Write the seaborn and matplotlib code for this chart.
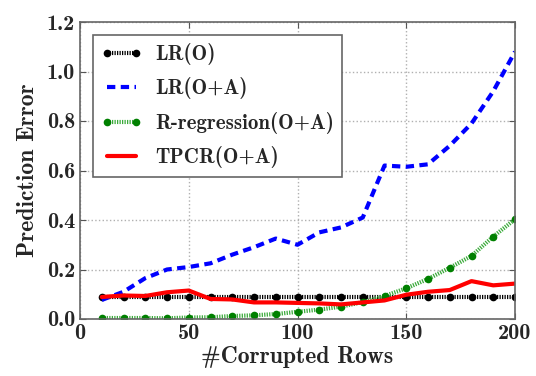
import matplotlib
matplotlib.use("Agg")
import matplotlib.pyplot as plt
import seaborn as sns
import pandas as pd

rows = [10, 20, 30, 40, 50, 60, 70, 80, 90, 100,
        110, 120, 130, 140, 150, 160, 170, 180, 190, 200]
lr_o = [0.09] * 20
lr_oa = [0.077, 0.11, 0.165, 0.20, 0.21, 0.225, 0.26, 0.29, 0.325, 0.30,
         0.35, 0.37, 0.41, 0.62, 0.615, 0.625, 0.70, 0.79, 0.92, 1.08]
rreg_oa = [0.004, 0.004, 0.004, 0.003, 0.006, 0.007, 0.012, 0.015, 0.02, 0.029,
           0.038, 0.05, 0.068, 0.093, 0.124, 0.162, 0.207, 0.255, 0.333, 0.403]
tpcr_oa = [0.089, 0.095, 0.093, 0.108, 0.115, 0.081, 0.079, 0.067, 0.067, 0.065,
           0.063, 0.059, 0.067, 0.075, 0.098, 0.11, 0.117, 0.153, 0.136, 0.143]

labels = ["LR(O)", "LR(O+A)", "R-regression(O+A)", "TPCR(O+A)"]

sns.set_style("ticks")
plt.rcParams["font.family"] = ["cmb10", "Liberation Serif", "DejaVu Serif"]
plt.rcParams["axes.unicode_minus"] = False

FINE_DOTS = (0.3, 0.3)
BLUE_DASH = (2.0, 1.3)

fig = plt.figure(figsize=(5.36, 3.76), dpi=100)
ax = fig.add_axes([80 / 536, 1 - 319 / 376, 435 / 536, 297 / 376])

df = pd.DataFrame({"rows": rows, "lr_o": lr_o, "lr_oa": lr_oa,
                   "rreg": rreg_oa, "tpcr": tpcr_oa})

sns.lineplot(data=df, x="rows", y="lr_o", ax=ax, color="black",
             linewidth=3, marker="o", markersize=5.5, markeredgewidth=0,
             label=labels[0])
ax.lines[-1].set_dashes(FINE_DOTS)
sns.lineplot(data=df, x="rows", y="lr_oa", ax=ax, color="blue",
             linewidth=3, label=labels[1])
ax.lines[-1].set_dashes(BLUE_DASH)
sns.lineplot(data=df, x="rows", y="rreg", ax=ax, color="green",
             linewidth=3, marker="o", markersize=5.5, markeredgewidth=0,
             label=labels[2])
ax.lines[-1].set_dashes(FINE_DOTS)
ax.lines[-1].set_color("#3aaa3a")
ax.lines[-1].set_markerfacecolor("green")
sns.lineplot(data=df, x="rows", y="tpcr", ax=ax, color="red", linestyle="-",
             linewidth=3, label=labels[3])

ax.set_xlim(0, 200)
ax.set_ylim(0, 1.2)
ax.set_xticks([0, 50, 100, 150, 200])
ax.set_yticks([0.0, 0.2, 0.4, 0.6, 0.8, 1.0, 1.2])
ax.set_yticklabels(["0.0", "0.2", "0.4", "0.6", "0.8", "1.0", "1.2"])
ax.grid(True, linestyle=":", color="#b0b0b0", linewidth=1)
ax.tick_params(direction="in", top=True, right=True, labelsize=16,
               length=4, color="#555555")
for s in ax.spines.values():
    s.set_color("#666666")
    s.set_linewidth(1.2)

ax.set_xlabel("#Corrupted Rows", fontsize=17, labelpad=2)
ax.set_ylabel("Prediction Error", fontsize=17, labelpad=6)

leg = ax.legend(loc="upper left", numpoints=2, fontsize=15, fancybox=False,
                framealpha=1, edgecolor="#666666", handlelength=2.0,
                handletextpad=0.6, borderpad=0.4, labelspacing=0.6,
                bbox_to_anchor=(0.0, 1.0), borderaxespad=0.6)
leg.get_frame().set_linewidth(1.2)
leg_lines = leg.get_lines()
leg_lines[0].set_dashes(FINE_DOTS)
leg_lines[1].set_dashes(BLUE_DASH)
leg_lines[2].set_dashes(FINE_DOTS)
leg_lines[2].set_color("#3aaa3a")
leg_lines[2].set_markerfacecolor("green")

fig.savefig("out.png", dpi=100)
